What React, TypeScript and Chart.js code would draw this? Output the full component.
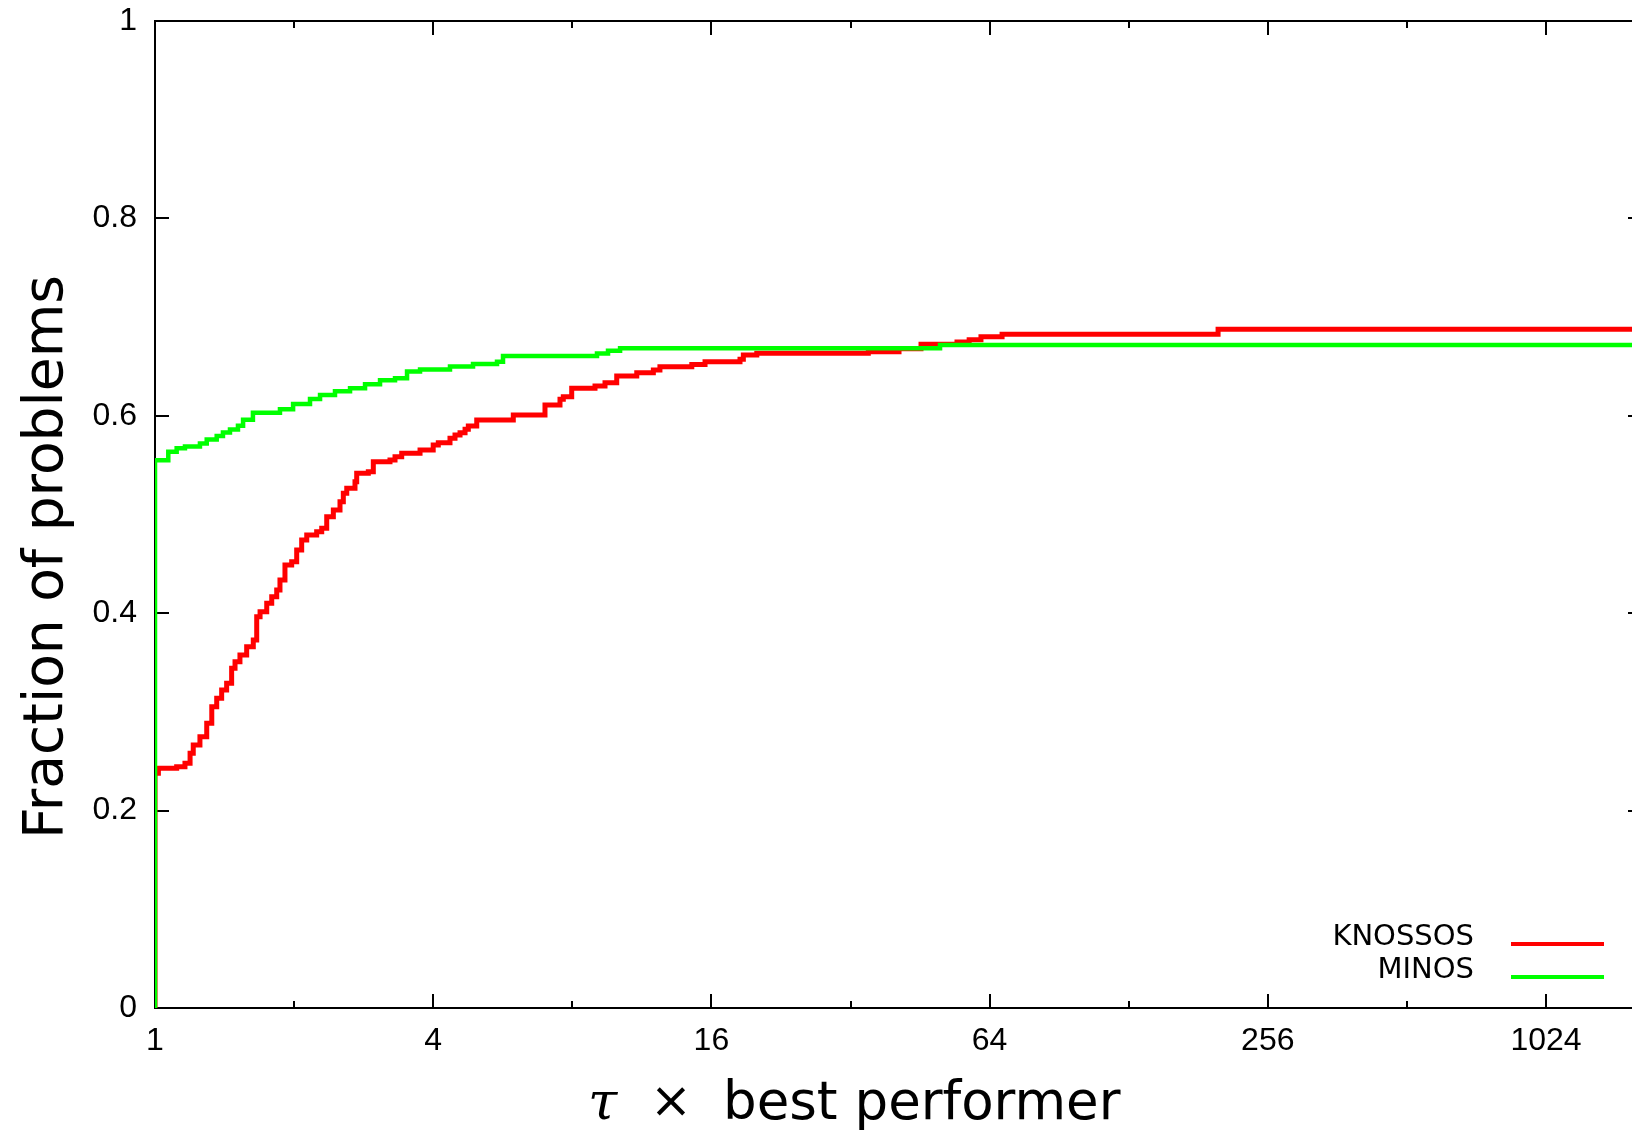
import React, { useEffect, useRef } from "react";
import { Chart, registerables } from "chart.js";

Chart.register(...registerables);

// ---- data ----
const knossosTau = [
  1, 1, 1.017, 1.114, 1.161, 1.191, 1.21, 1.251, 1.294, 1.327, 1.36, 1.394, 1.429, 1.465, 1.49, 1.527,
  1.579, 1.632, 1.66, 1.688, 1.745, 1.789, 1.834, 1.864, 1.911, 1.976, 2.026, 2.077, 2.13, 2.238, 2.295,
  2.353, 2.432, 2.514, 2.556, 2.6, 2.709, 2.732, 2.895, 2.968, 3.225, 3.307, 3.419, 3.746, 4.0, 4.103,
  4.349, 4.459, 4.572, 4.688, 4.765, 4.969, 5.962, 6.982, 7.524, 7.649, 7.976, 8.958, 9.416, 9.982,
  11.03, 11.98, 12.38, 14.51, 15.5, 18.45, 18.76, 20.06, 34.97, 40.75, 45.47, 54.4, 57.8, 61.3, 68.1,
  199.8, 1652,
];
const knossosFrac = [
  0, 0.2378, 0.2428, 0.2445, 0.2479, 0.258, 0.2665, 0.2749, 0.2884, 0.3053, 0.3138, 0.3222, 0.329,
  0.3442, 0.3509, 0.3577, 0.3661, 0.3728, 0.3965, 0.4015, 0.41, 0.4167, 0.4235, 0.4336, 0.4488, 0.4522,
  0.464, 0.4742, 0.4792, 0.4826, 0.486, 0.4978, 0.5046, 0.513, 0.5215, 0.5265, 0.5333, 0.5417, 0.5434,
  0.5535, 0.5552, 0.5586, 0.562, 0.5653, 0.5704, 0.5728, 0.5772, 0.5805, 0.5829, 0.5863, 0.5897, 0.5957,
  0.6008, 0.611, 0.6167, 0.6194, 0.6279, 0.6302, 0.6336, 0.6403, 0.6437, 0.6464, 0.6497, 0.6521, 0.6548,
  0.6572, 0.6616, 0.6633, 0.665, 0.668, 0.6724, 0.6748, 0.6771, 0.68, 0.6825, 0.6877, 0.6877,
];
const minosTau = [
  1, 1, 1.0685, 1.114, 1.161, 1.251, 1.294, 1.36, 1.403, 1.453, 1.512, 1.551, 1.629, 1.864, 1.99, 2.165,
  2.276, 2.452, 2.643, 2.848, 3.069, 3.307, 3.511, 3.746, 4.349, 4.878, 5.497, 5.664, 9.047, 9.558, 10.15,
  49.99, 1652,
];
const minosFrac = [
  0, 0.555, 0.5636, 0.567, 0.569, 0.572, 0.576, 0.5795, 0.583, 0.586, 0.59, 0.596, 0.603, 0.6067, 0.612,
  0.617, 0.621, 0.625, 0.628, 0.632, 0.636, 0.638, 0.645, 0.647, 0.65, 0.6525, 0.6548, 0.6606, 0.663,
  0.666, 0.6684, 0.6717, 0.6717,
];
const seriesNames = ["KNOSSOS", "MINOS"];
const seriesColors = ["#ff0000", "#00ff00"];
const xTickValues = [1, 2, 4, 8, 16, 32, 64, 128, 256, 512, 1024];
const xTickLabels = ["1", "4", "16", "64", "256", "1024"];
const yTickValues = [0, 0.2, 0.4, 0.6, 0.8, 1];
const xTitleSymbol = "τ";
const xTitleTimes = "×";
const xTitleText = "best performer";
const yTitleText = "Fraction of problems";

const W = 1650;
const H = 1131;

const framePlugin = {
  id: "frame",
  beforeDatasetsDraw(chart: any) {
    const { ctx, chartArea: a, scales } = chart;
    const x = scales.x;
    const y = scales.y;
    ctx.save();
    ctx.strokeStyle = "#000";
    ctx.lineWidth = 2;
    ctx.strokeRect(a.left, a.top, a.right - a.left, a.bottom - a.top);
    ctx.beginPath();
    x.ticks.forEach((t: any) => {
      const px = Math.round(x.getPixelForValue(t.value));
      const major = xTickLabels.includes(String(t.value));
      const len = major ? 14 : 7;
      ctx.moveTo(px, a.bottom);
      ctx.lineTo(px, a.bottom - len);
      ctx.moveTo(px, a.top);
      ctx.lineTo(px, a.top + len);
    });
    y.ticks.forEach((t: any) => {
      const py = Math.round(y.getPixelForValue(t.value));
      ctx.moveTo(a.left, py);
      ctx.lineTo(a.left + 14, py);
      ctx.moveTo(a.right, py);
      ctx.lineTo(a.right - 14, py);
    });
    ctx.stroke();
    ctx.restore();
  },
};

const annotPlugin = {
  id: "annot",
  afterDraw(chart: any) {
    const { ctx } = chart;
    ctx.save();
    ctx.fillStyle = "#000";
    // y title
    ctx.save();
    ctx.translate(62, 557);
    ctx.rotate(-Math.PI / 2);
    ctx.font = "55px 'DejaVu Sans'";
    ctx.textAlign = "center";
    ctx.textBaseline = "alphabetic";
    ctx.fillText(yTitleText, 0, 0);
    ctx.restore();
    // x title
    ctx.textBaseline = "alphabetic";
    ctx.textAlign = "left";
    ctx.font = "italic 53px 'DejaVu Serif'";
    ctx.fillText(xTitleSymbol, 588, 1119);
    ctx.textAlign = "center";
    ctx.font = "50px 'DejaVu Sans'";
    ctx.fillText(xTitleTimes, 671, 1117);
    ctx.textAlign = "left";
    ctx.font = "53px 'DejaVu Sans'";
    ctx.fillText(xTitleText, 723, 1119);
    // legend
    ctx.font = "29px 'DejaVu Sans'";
    ctx.textAlign = "right";
    ctx.textBaseline = "middle";
    const rows = [944, 977];
    chart.data.datasets.forEach((ds: any, i: number) => {
      const yy = rows[i];
      ctx.fillStyle = "#000";
      ctx.fillText(ds.label, 1474, yy - 7);
      ctx.strokeStyle = ds.borderColor;
      ctx.lineWidth = 4;
      ctx.beginPath();
      ctx.moveTo(1511, yy);
      ctx.lineTo(1604, yy);
      ctx.stroke();
    });
    ctx.restore();
  },
};

export default function App() {
  const ref = useRef<HTMLCanvasElement | null>(null);
  useEffect(() => {
    document.body.style.margin = "0";
    document.body.style.overflow = "hidden";
    const canvas = ref.current!;
    const chart = new Chart(canvas, {
      type: "line",
      data: {
        datasets: [
          {
            label: seriesNames[0],
            data: knossosTau.map((t, i) => ({ x: t, y: knossosFrac[i] })),
            borderColor: seriesColors[0],
            borderWidth: 5,
            stepped: true,
            pointRadius: 0,
            fill: false,
            order: 1,
            borderJoinStyle: "miter",
          },
          {
            label: seriesNames[1],
            data: minosTau.map((t, i) => ({ x: t, y: minosFrac[i] })),
            borderColor: seriesColors[1],
            borderWidth: 4.5,
            stepped: true,
            pointRadius: 0,
            fill: false,
            order: 0,
            borderJoinStyle: "miter",
          },
        ],
      },
      options: {
        responsive: false,
        animation: false,
        events: [],
        layout: { padding: { top: 21, right: 8, left: 0, bottom: 0 } },
        plugins: { legend: { display: false }, tooltip: { enabled: false } },
        scales: {
          x: {
            type: "logarithmic",
            min: 1,
            max: 1652,
            grid: { display: false, drawTicks: false },
            border: { display: false },
            afterBuildTicks: (s: any) => {
              s.ticks = xTickValues.map((v) => ({ value: v }));
            },
            afterFit: (s: any) => {
              s.height = 123;
              s.paddingLeft = 0;
              s.paddingRight = 0;
            },
            ticks: {
              autoSkip: false,
              maxRotation: 0,
              padding: 14,
              color: "#000",
              font: { family: "'Liberation Sans'", size: 32 },
              callback: (v: any) => (xTickLabels.includes(String(v)) ? String(v) : ""),
            },
          },
          y: {
            min: 0,
            max: 1,
            grid: { display: false, drawTicks: false },
            border: { display: false },
            afterBuildTicks: (s: any) => {
              s.ticks = yTickValues.map((v) => ({ value: v }));
            },
            afterFit: (s: any) => {
              s.width = 155;
              s.paddingTop = 0;
              s.paddingBottom = 0;
            },
            ticks: {
              padding: 18,
              color: "#000",
              font: { family: "'Liberation Sans'", size: 32 },
              callback: (v: any) => String(Math.round(Number(v) * 10) / 10),
            },
          },
        },
      },
      plugins: [framePlugin, annotPlugin],
    } as any);
    return () => chart.destroy();
  }, []);
  return (
    <div style={{ width: 1632, height: 1131, overflow: "hidden", position: "relative", background: "#fff" }}>
      <canvas ref={ref} width={W} height={H} style={{ width: W, height: H, display: "block" }} />
    </div>
  );
}
